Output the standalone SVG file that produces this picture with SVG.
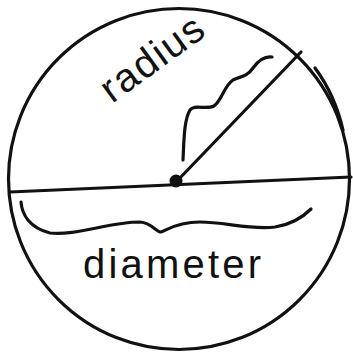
<svg xmlns="http://www.w3.org/2000/svg" width="353" height="356" viewBox="0 0 353 356">
<style>
.s{fill:none;stroke:#111;stroke-width:3.2;stroke-linecap:round;stroke-linejoin:round}
.t{font-family:"Liberation Sans",Arial,sans-serif;fill:#111;font-size:40px}
</style>
<rect width="353" height="356" fill="#fff"/>
<circle class="s" cx="179" cy="179" r="170.5"/>
<line class="s" x1="10" y1="192" x2="351" y2="177"/>
<line class="s" x1="178" y1="180" x2="301" y2="52"/>
<path class="s" d="M315,68 Q335,95 343,130"/>
<circle cx="176" cy="181" r="6.5" fill="#111"/>
<path class="s" d="M183,160 C184,140 184,120 190,110 C194,104 206,110 214,106 C222,100 224,86 233,80 C240,76 246,78 253,68 C258,61 264,56 272,57"/>
<path class="s" d="M21,202 C22,215 30,228 50,233 C75,236 110,222 140,222 C152,223 156,232 161,232 C166,231 175,222 200,222 C225,222 250,230 275,227 C295,224 306,214 311,209"/>
<text class="t" x="0" y="0" transform="translate(112,104) rotate(-36)" textLength="118" lengthAdjust="spacing">radius</text>
<text class="t" x="83" y="278" textLength="178" lengthAdjust="spacing">diameter</text>
</svg>
